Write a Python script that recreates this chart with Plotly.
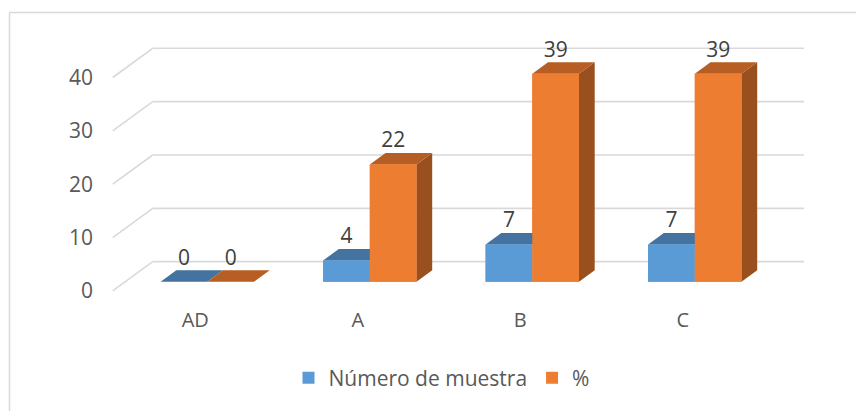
import plotly.graph_objects as go

# ---- data ----
categories = ["AD", "A", "B", "C"]
series_names = ["Número de muestra", "%"]
muestra = [0, 4, 7, 7]
porcentaje = [0, 22, 39, 39]
y_ticks = [0, 10, 20, 30, 40]

# ---- colours ----
BLUE_FRONT, BLUE_TOP = "#5B9BD5", "#44739F"
ORANGE_FRONT, ORANGE_TOP, ORANGE_SIDE = "#ED7D31", "#B65E23", "#9A4F1E"
GRID = "#D9D9D9"
TXT = "#595959"
FONT = "Open Sans"

# ---- geometry (reference pixel frame; page body has an 8px margin) ----
W, H = 864, 419
OFF = 8
PLOT_L, PLOT_R, PLOT_T, PLOT_B = 100, 830, 20, 318
CAT0_PX, CAT_PX = 207.3, 162.5      # x pixel of first category centre, px per category
BASE_PY, UNIT_PX = 290.0, 5.5       # y pixel of value 0 on bar fronts, px per unit

def xd(px):  # pixel -> data x
    return (px - CAT0_PX) / CAT_PX

def dv(dpy):  # pixel height -> data units
    return dpy / UNIT_PX

BAR_W = 46.7 / CAT_PX
DEPTH_DX = 15.7 / CAT_PX
DEPTH_DV = dv(11.9)
WALL_X_FRONT, WALL_X_BACK = xd(112.7), xd(152.7)
V_FRONT, V_BACK = dv(BASE_PY - 299.3), dv(BASE_PY - 269.2)
GRID_END = xd(804)
LABEL_DV = dv(23)
CAT_LABEL_DX = -12 / CAT_PX

x_range = [xd(PLOT_L), xd(PLOT_R)]
y_range = [dv(BASE_PY - PLOT_B), dv(BASE_PY - PLOT_T)]

fig = go.Figure()

def poly_trace(polys, color):
    xs, ys = [], []
    for p in polys:
        for (a, b) in p:
            xs.append(a); ys.append(b)
        xs.append(p[0][0]); ys.append(p[0][1])
        xs.append(None); ys.append(None)
    return go.Scatter(x=xs, y=ys, mode="lines", fill="toself", fillcolor=color,
                      line=dict(width=0, color=color), hoverinfo="skip", showlegend=False)

# legend / base bars (front faces)
blue_x = [i - BAR_W / 2 for i in range(len(categories))]
orange_x = [i + BAR_W / 2 for i in range(len(categories))]
fig.add_trace(go.Bar(x=blue_x, y=muestra, width=BAR_W, name=series_names[0],
                     marker=dict(color=BLUE_FRONT, line=dict(width=0))))
fig.add_trace(go.Bar(x=orange_x, y=porcentaje, width=BAR_W, name=series_names[1],
                     marker=dict(color=ORANGE_FRONT, line=dict(width=0))))

def front(x0, v):
    return [(x0, 0), (x0 + BAR_W, 0), (x0 + BAR_W, v), (x0, v)]

def top(x0, v):
    return [(x0, v), (x0 + BAR_W, v), (x0 + BAR_W + DEPTH_DX, v + DEPTH_DV), (x0 + DEPTH_DX, v + DEPTH_DV)]

def side(x0, v):
    x1 = x0 + BAR_W
    return [(x1, 0), (x1 + DEPTH_DX, DEPTH_DV), (x1 + DEPTH_DX, v + DEPTH_DV), (x1, v)]

bl = [i - BAR_W for i in range(len(categories))]
ol = [float(i) for i in range(len(categories))]

fig.add_trace(poly_trace([top(x, v) for x, v in zip(bl, muestra)], BLUE_TOP))
fig.add_trace(poly_trace([front(x, v) for x, v in zip(bl, muestra) if v > 0], BLUE_FRONT))
fig.add_trace(poly_trace([side(x, v) for x, v in zip(ol, porcentaje) if v > 0], ORANGE_SIDE))
fig.add_trace(poly_trace([top(x, v) for x, v in zip(ol, porcentaje)], ORANGE_TOP))
fig.add_trace(poly_trace([front(x, v) for x, v in zip(ol, porcentaje) if v > 0], ORANGE_FRONT))

# data labels
lab_x = [x + BAR_W / 2 for x in bl] + [x + BAR_W / 2 for x in ol]
lab_v = muestra + porcentaje
fig.add_trace(go.Scatter(x=lab_x, y=[v + LABEL_DV for v in lab_v], mode="text",
                         text=[str(v) for v in lab_v], textposition="middle center",
                         textfont=dict(family=FONT, size=21, color="#404040"),
                         hoverinfo="skip", showlegend=False))

# perspective gridlines
shapes = []
for t in y_ticks:
    shapes.append(dict(type="line", xref="x", yref="y", layer="below",
                       x0=WALL_X_FRONT, y0=t + V_FRONT, x1=WALL_X_BACK, y1=t + V_BACK,
                       line=dict(color=GRID, width=1.6)))
    shapes.append(dict(type="line", xref="x", yref="y", layer="below",
                       x0=WALL_X_BACK, y0=t + V_BACK, x1=GRID_END, y1=t + V_BACK,
                       line=dict(color=GRID, width=1.6)))

# chart border (left and top edges visible)
pw, ph = PLOT_R - PLOT_L, PLOT_B - PLOT_T
bx = (9.5 - PLOT_L) / pw
by = 1 + (PLOT_T - 12.3) / ph
shapes.append(dict(type="line", xref="paper", yref="paper", x0=bx, y0=by, x1=1.5, y1=by,
                   line=dict(color=GRID, width=1.5)))
shapes.append(dict(type="line", xref="paper", yref="paper", x0=bx, y0=by, x1=bx, y1=-1,
                   line=dict(color=GRID, width=1.5)))

FIG_W, FIG_H = W - OFF, H - 2 * OFF
fig.update_layout(
    width=FIG_W, height=FIG_H, autosize=False,
    margin=dict(l=PLOT_L - OFF, r=FIG_W - (PLOT_R - OFF), t=PLOT_T - OFF,
                b=FIG_H - (PLOT_B - OFF), pad=0),
    paper_bgcolor="white", plot_bgcolor="white",
    barmode="overlay",
    shapes=shapes,
    font=dict(family=FONT, color=TXT),
    xaxis=dict(range=x_range, showgrid=False, zeroline=False, showline=False, automargin=False,
               tickvals=[i + CAT_LABEL_DX for i in range(len(categories))],
               ticktext=categories, ticks="", ticklabelstandoff=-3,
               tickfont=dict(size=20, color=TXT)),
    yaxis=dict(range=y_range, showgrid=False, zeroline=False, showline=False, automargin=False,
               showticklabels=False, ticks=""),
    yaxis2=dict(range=[y_range[0] - V_FRONT, y_range[1] - V_FRONT], overlaying="y",
                side="left", tickvals=y_ticks, showgrid=False, zeroline=False, automargin=False,
                showline=False, ticks="", ticklabelstandoff=6,
                tickfont=dict(size=21, color=TXT)),
    legend=dict(orientation="h", x=(441.5 - PLOT_L) / pw, xanchor="center",
                y=(PLOT_B - 368) / ph, yanchor="top",
                font=dict(size=21, color=TXT)),
    showlegend=True,
)
# attach an invisible trace to yaxis2 so its ticks render
fig.add_trace(go.Scatter(x=[x_range[0]], y=[0], yaxis="y2", mode="markers",
                         marker=dict(opacity=0), hoverinfo="skip", showlegend=False))

fig.write_html("out.html")
